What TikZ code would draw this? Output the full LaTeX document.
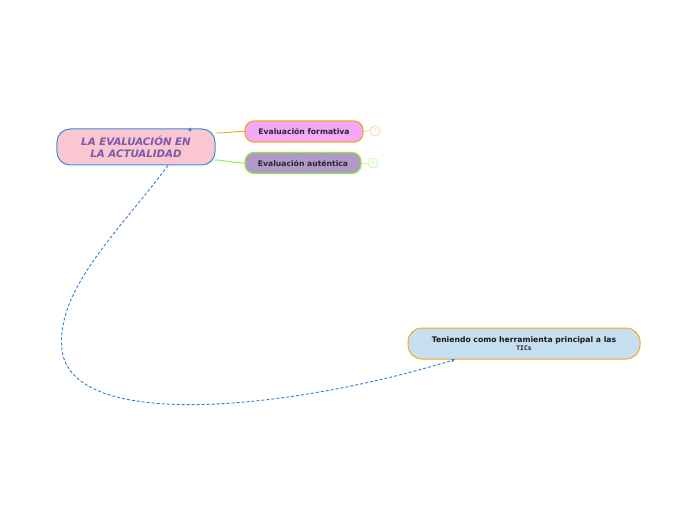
\documentclass[tikz,border=0pt]{standalone}
\usepackage{fontspec}
\setmainfont{DejaVu Sans}
\newfontfamily\monof{DejaVu Sans Mono}
\usetikzlibrary{arrows.meta}
\definecolor{mainfill}{HTML}{F9C6D1}
\definecolor{mainbd}{HTML}{3C8FDC}
\definecolor{maintxt}{HTML}{7A5AA8}
\definecolor{formfill}{HTML}{F4A8FA}
\definecolor{orangebd}{HTML}{F5A623}
\definecolor{autfill}{HTML}{B298C9}
\definecolor{greenbd}{HTML}{8DEB3C}
\definecolor{ticfill}{HTML}{C5DEF0}
\definecolor{dashblue}{HTML}{2F7FD6}
\definecolor{lorange}{HTML}{FFD59A}
\definecolor{lgreen}{HTML}{C4F5A0}
\tikzset{
  mainbox/.style={draw=mainbd, fill=mainfill, line width=1bp, rounded corners=13bp,
    minimum width=158bp, minimum height=36bp, align=center, inner sep=0pt,
    font=\fontsize{10.3}{12}\selectfont\bfseries\itshape, text=maintxt},
  childbox/.style={fill=#1, line width=1.2bp, rounded corners=9bp,
    minimum height=21bp, inner sep=0pt, font=\fontsize{7.7}{9}\selectfont\bfseries, text=black!85},
  ticbox/.style={draw=orangebd, fill=ticfill, line width=1bp, rounded corners=14bp,
    minimum width=232bp, minimum height=31bp, align=center, inner sep=0pt,
    font=\fontsize{7.7}{9}\selectfont\bfseries, text=black!90},
  knob/.style={circle, draw=#1, line width=0.8bp, minimum size=10bp, inner sep=0pt,
    font=\fontsize{5}{5}\selectfont, text=#1},
}
\begin{document}
\begin{tikzpicture}[x=1bp,y=-1bp]
\useasboundingbox (0,0) rectangle (697,520);
% nodes
\node[mainbox] (main) at (136,147) {LA EVALUACIÓN EN\\LA ACTUALIDAD};
\node[childbox=formfill, draw=orangebd, minimum width=118bp] (form) at (304,131.5) {Evaluación formativa};
\node[childbox=autfill, draw=greenbd, minimum width=116bp] (aut) at (303,163) {Evaluación auténtica};
\node[ticbox] (tic) at (524,343.5) {Teniendo como herramienta principal a las\\[-1bp]{\monof\fontsize{6.3}{7}\selectfont TICs}};
\node[knob=lorange] (k1) at (375,131) {7};
\node[knob=lgreen] (k2) at (373,163) {6};
% connectors
\draw[orangebd, line width=0.9bp] ([yshift=14bp]main.east) to[out=0,in=180] (form.west);
\draw[greenbd, line width=0.9bp] ([yshift=-13bp,xshift=-2bp]main.east) to[out=0,in=180] (aut.west);
\draw[lorange, line width=0.8bp] (form.east) -- (k1.west);
\draw[lgreen, line width=0.8bp] (aut.east) -- (k2.west);
% dashed relationship
\coordinate (s) at ([xshift=32bp]main.south);
\coordinate (e) at ([xshift=-69bp]tic.south);
\coordinate (lft) at (62,350);
\draw[dashblue, dashed, dash pattern=on 3bp off 2bp, line width=0.9bp, -{Stealth[length=4bp,width=4bp]}]
  (s) .. controls (120,230) and (55,290) .. (lft)
      .. controls (72,432) and (290,410) .. (e);
\coordinate (t) at ([xshift=55bp]main.north);
\draw[dashblue, -{Stealth[length=4bp,width=4bp]}] ([xshift=-2bp,yshift=-3bp]t) -- ([yshift=1bp]t);
\end{tikzpicture}
\end{document}
